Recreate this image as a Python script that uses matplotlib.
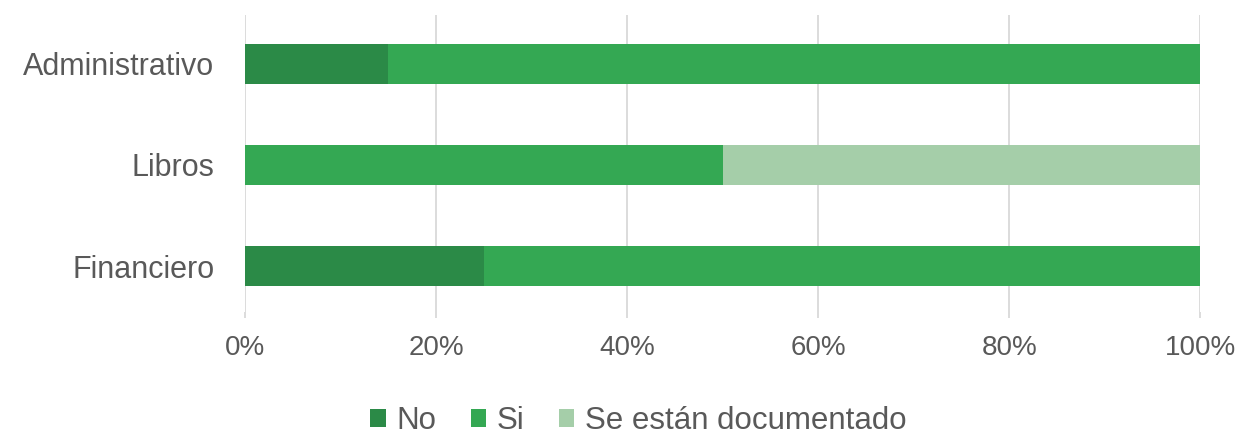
import matplotlib.pyplot as plt
from matplotlib.ticker import PercentFormatter

plt.rcParams['font.family'] = ['Liberation Sans', 'DejaVu Sans']

# Data
categories = ['Financiero', 'Libros', 'Administrativo']
no_vals = [25, 0, 15]
si_vals = [75, 50, 85]
doc_vals = [0, 50, 0]

colors = ['#2b8a47', '#34a853', '#a5cea9']
labels = ['No', 'Si', 'Se están documentado']
text_color = '#595959'

fig = plt.figure(figsize=(12.44, 4.37), dpi=100)
ax = fig.add_axes([0.197, 0.287, 0.768, 0.678])

y = range(len(categories))
left = [0] * len(categories)
for vals, col, lab in zip([no_vals, si_vals, doc_vals], colors, labels):
    ax.barh(y, vals, left=left, height=0.4, color=col, label=lab, zorder=3)
    left = [l + v for l, v in zip(left, vals)]

ax.set_xlim(0, 100)
ax.set_ylim(-0.45, 2.48)
ax.set_xticks([0, 20, 40, 60, 80, 100])
ax.xaxis.set_major_formatter(PercentFormatter(decimals=0))
ax.set_yticks(list(y))
ax.set_yticklabels(categories)
ax.grid(axis='x', color='#d9d9d9', linewidth=1.3, zorder=0)
for s in ax.spines.values():
    s.set_visible(False)
ax.tick_params(axis='x', length=4, width=1.3, color='#d9d9d9', pad=13,
               labelsize=20, labelcolor=text_color)
ax.tick_params(axis='y', length=0, pad=22, labelsize=22, labelcolor=text_color)

fig.legend(loc='center', bbox_to_anchor=(0.513, 0.037), ncol=3, frameon=False,
           fontsize=22.5, labelcolor=text_color, handlelength=0.5, handleheight=0.5,
           handletextpad=0.33, columnspacing=1.1)

fig.savefig('out.png', dpi=100)
